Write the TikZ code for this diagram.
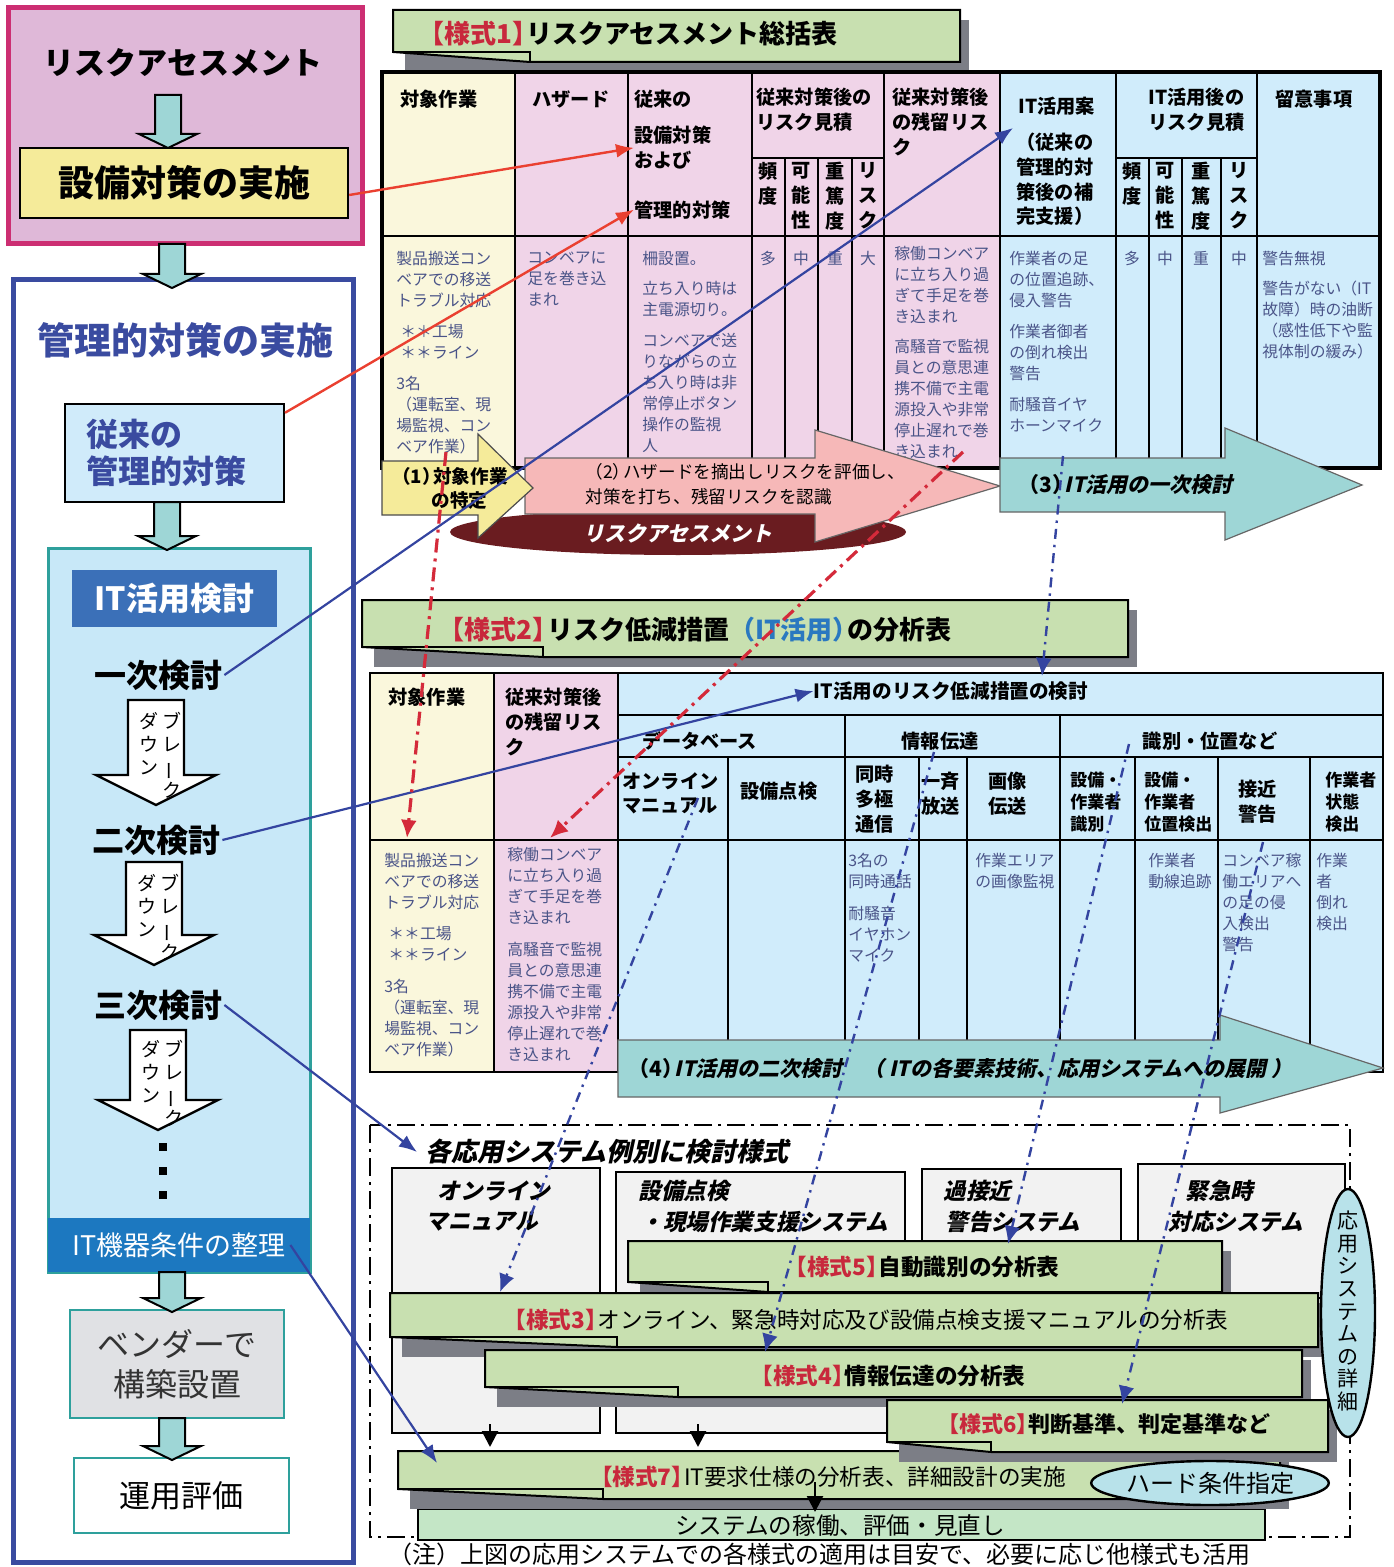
\documentclass[tikz,border=0pt]{standalone}
\usepackage{fontspec}
\setmainfont{Noto Sans CJK JP}
\newfontfamily\sljp{Noto Sans CJK JP}[FakeSlant=0.22]
\usetikzlibrary{arrows.meta,positioning,shapes.geometric}

\definecolor{pinkbox}{HTML}{DFB8D8}
\definecolor{pinkedge}{HTML}{CC2E72}
\definecolor{yelc}{HTML}{F5EB9A}
\definecolor{arrteal}{HTML}{9ED6D6}
\definecolor{navy}{HTML}{3A4BA0}
\definecolor{kjfill}{HTML}{D0EBFA}
\definecolor{itpanel}{HTML}{C8E8F8}
\definecolor{itedge}{HTML}{2EA09C}
\definecolor{ithead}{HTML}{3B70B8}
\definecolor{itbar}{HTML}{1C78C0}
\definecolor{vendc}{HTML}{E0E1E4}
\definecolor{creamc}{HTML}{FAF7DC}
\definecolor{pinkc}{HTML}{F0D4E8}
\definecolor{lbluec}{HTML}{D0ECFB}
\definecolor{bannerc}{HTML}{C8E0B0}
\definecolor{shadowc}{HTML}{7C7E86}
\definecolor{arrpink}{HTML}{F6B8B8}
\definecolor{ellred}{HTML}{6A1C20}
\definecolor{bodyc}{HTML}{4A5488}
\definecolor{redc}{HTML}{EA4030}
\definecolor{reddc}{HTML}{D42A3A}
\definecolor{titred}{HTML}{C8283C}
\definecolor{bluec}{HTML}{3444A0}
\definecolor{itbtxt}{HTML}{2A78C0}
\definecolor{hardc}{HTML}{B8E2EA}
\definecolor{sysc}{HTML}{C4E6C6}
\definecolor{gboxc}{HTML}{F2F2F2}

% teal block arrow: x, top, tip
\newcommand{\tealarrow}[3]{\filldraw[fill=arrteal,draw=black,line width=1pt]
  (#1-13,#2) -- (#1+13,#2) -- (#1+13,#3-14) -- (#1+29,#3-14) -- (#1,#3) -- (#1-29,#3-14) -- (#1-13,#3-14) -- cycle;}
% white breakdown arrow: x, top, tip
\newcommand{\bdarrow}[3]{\filldraw[fill=white,draw=black,line width=1.2pt]
  (#1-28,#2) -- (#1+28,#2) -- (#1+28,#3-30) -- (#1+60,#3-30) -- (#1,#3) -- (#1-60,#3-30) -- (#1-28,#3-30) -- cycle;}
% green banner: x0, y0, x1, y1, fold
\newcommand{\mybanner}[5]{%
  \fill[shadowc] (#1+12,#2+10) rectangle (#3+9,#4+10);
  \filldraw[fill=bannerc,draw=black,line width=1pt] (#1,#2) -- (#3,#2) -- (#3,#4) -- (#5,#4) -- (#1,#4-10) -- cycle;
  \draw[line width=1pt] (#1,#4-10) -- (#5,#4-10) -- (#5,#4);}
% form label
\newcommand{\ys}[1]{\textcolor{titred}{\bfseries【様式#1】}\kern-0.45em}

\begin{document}
\begin{tikzpicture}[x=0.5pt,y=-0.5pt,
  hd/.style={font=\fontsize{9.6}{12.3}\selectfont\bfseries,inner sep=0pt,align=left,anchor=north west},
  bd/.style={font=\fontsize{7.9}{10.5}\selectfont,text=bodyc,inner sep=0pt,align=left,anchor=north west},
  vc/.style={font=\fontsize{9.6}{12.4}\selectfont\bfseries,inner sep=0pt,align=center,anchor=north},
  bkd/.style={font=\fontsize{9.5}{11.5}\selectfont,inner sep=0pt,align=center,anchor=north},
  kento/.style={font=\fontsize{16}{18}\selectfont\bfseries,inner sep=1pt},
  tline/.style={draw=black,line width=0.8pt},
  gbox/.style={fill=gboxc,draw=black,line width=1.2pt},
  systxt/.style={font=\sljp\bfseries\fontsize{11.3}{13}\selectfont,inner sep=0pt,anchor=west},
  bantxt/.style={font=\fontsize{11.3}{13}\selectfont,inner sep=0pt},
  redline/.style={draw=redc,line width=1.2pt,-{Latex[length=9pt,width=7pt]}},
  blueline/.style={draw=bluec,line width=1.1pt,-{Latex[length=9pt,width=7pt]}},
  reddash/.style={draw=reddc,line width=1.6pt,dash pattern=on 7pt off 3pt on 1.5pt off 3pt,-{Latex[length=9pt,width=8pt]}},
  bluedash/.style={draw=bluec,line width=1.2pt,dash pattern=on 5pt off 3pt on 1.2pt off 3pt,-{Latex[length=9pt,width=8pt]}}]
\useasboundingbox (0,0) rectangle (1393,1567);

% ---- left column
\filldraw[fill=pinkbox,draw=pinkedge,line width=2.5pt] (8,8) rectangle (362,244);
\node[font=\fontsize{15.5}{18}\selectfont\bfseries] (ra) at (183,63) {リスクアセスメント};
\tealarrow{168}{95}{148}
\node[draw,line width=1.2pt,fill=yelc,minimum width=164pt,minimum height=35pt,font=\fontsize{18}{20}\selectfont\bfseries] (setsubi) at (184,183) {設備対策の実施};
\draw[navy,line width=2.5pt] (13,280) rectangle (353,1562);
\tealarrow{172}{244}{288}
\node[font=\fontsize{18.5}{20}\selectfont\bfseries,text=navy] (kanri) at (185,340) {管理的対策の実施};
\node[draw,line width=1pt,fill=kjfill,minimum width=109.5pt,minimum height=49pt] (kjbox) at (174.5,453) {};
\node[font=\fontsize{16}{18.5}\selectfont\bfseries,text=navy,align=left,anchor=west,inner sep=0pt] (kjtxt) at (86,453) {従来の\\管理的対策};
\filldraw[fill=itpanel,draw=itedge,line width=1.5pt] (48,548) rectangle (310,1272);
\tealarrow{167}{502}{550}
\node[fill=ithead,minimum width=102.5pt,minimum height=28.5pt,text=white,font=\fontsize{16}{18}\selectfont\bfseries] (itk) at (174.5,598.5) {IT活用検討};

\node[kento] (ichiji) at (158,675) {一次検討};
\bdarrow{156}{700}{805}
\node[bkd] at (172,712) {ブ\\レ\\\rotatebox[origin=c]{90}{ー}\\ク};
\node[bkd] at (149,712) {ダ\\ウ\\ン};
\node[kento] (niji) at (156,840) {二次検討};
\bdarrow{154}{862}{965}
\node[bkd] at (170,874) {ブ\\レ\\\rotatebox[origin=c]{90}{ー}\\ク};
\node[bkd] at (147,874) {ダ\\ウ\\ン};
\node[kento] (sanji) at (158,1005) {三次検討};
\bdarrow{158}{1030}{1130}
\node[bkd] at (174,1040) {ブ\\レ\\\rotatebox[origin=c]{90}{ー}\\ク};
\node[bkd] at (151,1040) {ダ\\ウ\\ン};
\foreach \y in {1147,1171,1195} \fill (159,\y-4) rectangle (167,\y+4);
\node[fill=itbar,minimum width=131pt,minimum height=27pt,text=white,font=\fontsize{13.5}{15}\selectfont] (itkiki) at (179,1245) {IT機器条件の整理};
\node[draw=itedge,line width=1.2pt,fill=vendc,minimum width=107pt,minimum height=54pt,align=center,font=\fontsize{16}{20}\selectfont,text=black!80] (vendor) at (177,1364) {ベンダーで\\構築設置};
\tealarrow{172}{1272}{1312}
\node[draw=itedge,line width=1.2pt,fill=white,minimum width=107.5pt,minimum height=37.5pt,font=\fontsize{15.5}{18}\selectfont] (unyo) at (181.5,1495.5) {運用評価};
\tealarrow{172}{1418}{1460}

% ---- form 1
\mybanner{393}{10}{960}{62}{530}
\node[font=\fontsize{13}{15}\selectfont\bfseries] (s1) at (628,34) {\ys{1}リスクアセスメント総括表};
\fill[creamc] (382,72) rectangle (515,468);
\fill[pinkc] (515,72) rectangle (1000,468);
\fill[lbluec] (1000,72) rectangle (1380,468);
\foreach \x in {515,628,752,884,1000,1116,1257} \draw[tline] (\x,72) -- (\x,468);
\foreach \x in {785,818,852,1149,1182,1221} \draw[tline] (\x,158) -- (\x,468);
\draw[tline] (752,158) -- (884,158) (1116,158) -- (1257,158);
\draw[tline] (382,236) -- (1380,236);
\draw[line width=1.6pt] (382,72) rectangle (1380,468);

\node[hd] (h1) at (400,90) {対象作業};
\node[hd] (h2) at (532,90) {ハザード};
\node[hd] (h3) at (634,90) {従来の};
\node[hd] (h3b) at (634,126) {設備対策\\および};
\node[hd] (h3c) at (634,200) {管理的対策};
\node[hd] (h4) at (756,88) {従来対策後の\\リスク見積};
\node[vc] at (768,162) {頻\\度};
\node[vc] at (801,162) {可\\能\\性};
\node[vc] at (835,162) {重\\篤\\度};
\node[vc] at (868,162) {リ\\ス\\ク};
\node[hd] (h5) at (892,88) {従来対策後\\の残留リス\\ク};
\node[hd] (h6) at (1018,97) {IT活用案};
\node[hd] (h6b) at (1016,133) {（従来の\\管理的対\\策後の補\\完支援）};
\node[hd] (h7) at (1148,88) {IT活用後の\\リスク見積};
\node[vc] at (1132,162) {頻\\度};
\node[vc] at (1165,162) {可\\能\\性};
\node[vc] at (1201,162) {重\\篤\\度};
\node[vc] at (1239,162) {リ\\ス\\ク};
\node[hd] (h8) at (1275,90) {留意事項};

\node[bd] (b1) at (396,251) {製品搬送コン\\ベアでの移送\\トラブル対応};
\node[bd] at (400,324) {＊＊工場\\＊＊ライン};
\node[bd] at (396,376) {3名\\（運転室、現\\場監視、コン\\ベア作業）};
\node[bd] (b2) at (527,251) {コンベアに\\足を巻き込\\まれ};
\node[bd] (b3) at (642,251) {柵設置。};
\node[bd] at (642,281) {立ち入り時は\\主電源切り。};
\node[bd] at (642,333) {コンベアで送\\りながらの立\\ち入り時は非\\常停止ボタン\\操作の監視\\人};
\foreach \x/\t in {768/多,801/中,835/重,868/大} \node[bd,anchor=north] at (\x,251) {\t};
\node[bd] (b5) at (894,246) {稼働コンベア\\に立ち入り過\\ぎて手足を巻\\き込まれ};
\node[bd] at (894,339) {高騒音で監視\\員との意思連\\携不備で主電\\源投入や非常\\停止遅れで巻\\き込まれ};
\node[bd] (b6) at (1009,251) {作業者の足\\の位置追跡、\\侵入警告};
\node[bd] at (1009,324) {作業者御者\\の倒れ検出\\警告};
\node[bd] at (1009,397) {耐騒音イヤ\\ホーンマイク};
\foreach \x/\t in {1132/多,1165/中,1201/重,1239/中} \node[bd,anchor=north] at (\x,251) {\t};
\node[bd] (b8) at (1262,251) {警告無視};
\node[bd] at (1262,281) {警告がない（IT\\故障）時の油断\\（感性低下や監\\視体制の緩み）};

% ---- steps (1)(2)(3)
\node[ellipse,fill=ellred,minimum width=228pt,minimum height=23pt,inner sep=0pt] (rae) at (678,532) {};
\filldraw[fill=arrpink,draw=black!60,line width=0.6pt] (525,458) -- (815,458) -- (815,430) -- (1000,486) -- (815,542) -- (815,514) -- (525,514) -- cycle;
\filldraw[fill=yelc,draw=black!70,line width=0.6pt] (382,461) -- (478,461) -- (478,434) -- (533,488) -- (478,538) -- (478,515) -- (382,515) -- cycle;
\filldraw[fill=arrteal,draw=black!60,line width=0.6pt] (1000,458) -- (1225,458) -- (1225,428) -- (1362,485) -- (1225,540) -- (1225,512) -- (1000,512) -- cycle;
\node[font=\sljp\bfseries\fontsize{10.5}{12}\selectfont,text=white] (raet) at (678,533) {リスクアセスメント};
\node[font=\fontsize{9.3}{12}\selectfont\bfseries,inner sep=0pt,align=center] (t1) at (450,488) {（1）\kern-0.4em対象作業\\\hspace{1em}の特定};
\node[font=\fontsize{8.8}{12.5}\selectfont,inner sep=0pt,align=left,anchor=north west] (t2) at (585,463) {（2）\kern-0.4emハザードを摘出しリスクを評価し、\\対策を打ち、残留リスクを認識};
\node[font=\sljp\bfseries\fontsize{10.5}{12}\selectfont,inner sep=0pt,anchor=west] (t3) at (1018,485) {{\rmfamily\bfseries（3）}\kern-0.4em IT活用の一次検討};

% ---- form 2
\mybanner{362}{600}{1128}{657}{543}
\node[font=\fontsize{13}{15}\selectfont\bfseries] (s2) at (695,630) {\ys{2}リスク低減措置\textcolor{itbtxt}{（IT活用）}\kern-0.45em の分析表};
\fill[creamc] (370,673) rectangle (494,1072);
\fill[pinkc] (494,673) rectangle (618,1072);
\fill[lbluec] (618,673) rectangle (1383,1072);
\draw[tline] (618,715) -- (1383,715) (618,757) -- (1383,757) (370,840) -- (1383,840);
\foreach \x in {494,618} \draw[tline] (\x,673) -- (\x,1072);
\foreach \x in {845,1060} \draw[tline] (\x,715) -- (\x,1072);
\foreach \x in {728,919,967,1135,1218,1310} \draw[tline] (\x,757) -- (\x,1072);
\draw[line width=1.2pt] (370,673) rectangle (1383,1072);

\node[hd] (k1) at (388,688) {対象作業};
\node[hd] (k2) at (505,688) {従来対策後\\の残留リス\\ク};
\node[font=\fontsize{9.8}{12}\selectfont\bfseries,inner sep=0pt] (hitr) at (951,691) {IT活用のリスク低減措置の検討};
\node[font=\fontsize{9.6}{12}\selectfont\bfseries,inner sep=0pt] at (700,741) {データベース};
\node[font=\fontsize{9.6}{12}\selectfont\bfseries,inner sep=0pt] at (940,741) {情報伝達};
\node[font=\fontsize{9.6}{12}\selectfont\bfseries,inner sep=0pt] at (1210,741) {識別・位置など};
\node[hd] at (622,772) {オンライン\\マニュアル};
\node[hd,anchor=west] at (740,791) {設備点検};
\node[hd] at (855,765) {同時\\多極\\通信};
\node[hd] at (921,772) {一斉\\放送};
\node[hd] at (988,772) {画像\\伝送};
\node[hd,font=\fontsize{8.5}{11}\selectfont\bfseries] at (1070,772) {設備・\\作業者\\識別};
\node[hd,font=\fontsize{8.5}{11}\selectfont\bfseries] at (1144,772) {設備・\\作業者\\位置検出};
\node[hd] at (1238,780) {接近\\警告};
\node[hd,font=\fontsize{8.5}{11}\selectfont\bfseries] at (1325,772) {作業者\\状態\\検出};

\node[bd] at (384,853) {製品搬送コン\\ベアでの移送\\トラブル対応};
\node[bd] at (388,926) {＊＊工場\\＊＊ライン};
\node[bd] at (384,979) {3名\\（運転室、現\\場監視、コン\\ベア作業）};
\node[bd] at (507,847) {稼働コンベア\\に立ち入り過\\ぎて手足を巻\\き込まれ};
\node[bd] at (507,942) {高騒音で監視\\員との意思連\\携不備で主電\\源投入や非常\\停止遅れで巻\\き込まれ};
\node[bd] at (848,853) {3名の\\同時通話};
\node[bd] at (848,906) {耐騒音\\イヤホン\\マイク};
\node[bd] at (975,853) {作業エリア\\の画像監視};
\node[bd] at (1148,853) {作業者\\動線追跡};
\node[bd] at (1222,853) {コンベア稼\\働エリアへ\\の足の侵\\入検出\\警告};
\node[bd] at (1316,853) {作業\\者\\倒れ\\検出};

\filldraw[fill=arrteal,draw=black!60,line width=0.6pt] (618,1040) -- (1220,1040) -- (1220,1015) -- (1383,1068) -- (1220,1113) -- (1220,1097) -- (618,1097) -- cycle;
\node[font=\sljp\bfseries\fontsize{10.5}{12}\selectfont,inner sep=0pt,anchor=west] (t4) at (628,1068) {{\rmfamily\bfseries（4）}\kern-0.4em IT活用の二次検討\quad（ ITの各要素技術、応用システムへの展開 ）};

% ---- application systems
\draw[line width=1.1pt,dash pattern=on 9pt off 3pt on 1.5pt off 3pt] (370,1125) rectangle (1350,1537);
\node[font=\sljp\bfseries\fontsize{13}{15}\selectfont,inner sep=0pt,anchor=west] (kk) at (425,1152) {各応用システム例別に検討様式};
\filldraw[gbox] (392,1168) rectangle (600,1433);
\filldraw[gbox] (616,1172) rectangle (905,1433);
\filldraw[gbox] (922,1169) rectangle (1121,1250);
\filldraw[gbox] (1138,1164) rectangle (1345,1298);
\node[systxt] at (437,1191) {オンライン};
\node[systxt] at (425,1222) {マニュアル};
\node[systxt] at (638,1191) {設備点検};
\node[systxt] at (640,1222) {・現場作業支援システム};
\node[systxt] at (943,1191) {過接近};
\node[systxt] at (945,1222) {警告システム};
\node[systxt] at (1185,1191) {緊急時};
\node[systxt] at (1168,1222) {対応システム};

\mybanner{628}{1241}{1222}{1292}{768}
\node[bantxt,font=\fontsize{11.3}{13}\selectfont\bfseries] (s5) at (922,1267) {\ys{5}自動識別の分析表};
\mybanner{390}{1293}{1318}{1347}{617}
\node[bantxt] (s3) at (866,1320) {\ys{3}オンライン、緊急時対応及び設備点検支援マニュアルの分析表};
\mybanner{485}{1350}{1302}{1397}{678}
\node[bantxt,font=\fontsize{11.3}{13}\selectfont\bfseries] (s4) at (888,1376) {\ys{4}情報伝達の分析表};
\filldraw[fill=sysc,draw=black,line width=1pt] (418,1509) rectangle (1265,1540);
\node[bantxt,font=\fontsize{11.8}{13}\selectfont] (sys) at (840,1526) {システムの稼働、評価・見直し};
\mybanner{398}{1451}{1280}{1499}{603}
\node[bantxt] (s7) at (828,1477) {\ys{7}IT要求仕様の分析表、詳細設計の実施};
\mybanner{887}{1400}{1328}{1452}{991}
\node[bantxt,font=\fontsize{11}{13}\selectfont\bfseries] (s6) at (1104,1424) {\ys{6}判断基準、判定基準など};
\node[ellipse,draw,line width=1.2pt,fill=hardc,minimum width=118pt,minimum height=22pt,inner sep=0pt,font=\fontsize{12}{14}\selectfont] (hard) at (1210,1483) {ハード条件指定};
\node[ellipse,draw,line width=1.2pt,fill=hardc,minimum width=27pt,minimum height=124pt,inner sep=0pt] (ouyo) at (1348,1313) {};
\node[font=\fontsize{10.5}{11.3}\selectfont,align=center,inner sep=0pt] at (1348,1311) {応\\用\\シ\\ス\\テ\\ム\\の\\詳\\細};
\coordinate (g1) at (490,1424); \coordinate (g1e) at (490,1447);
\coordinate (g2) at (698,1424); \coordinate (g2e) at (698,1447);
\coordinate (g3) at (815,1482); \coordinate (g3e) at (815,1512);
\foreach \a/\b in {g1/g1e,g2/g2e,g3/g3e} \draw[line width=1.3pt,-{Triangle[length=8pt,width=8pt]}] (\a) -- (\b);
\node[font=\fontsize{12}{14}\selectfont,inner sep=0pt,anchor=west] (note) at (388,1554) {（注）上図の応用システムでの各様式の適用は目安で、必要に応じ他様式も活用};

% ---- connectors
\coordinate (c1) at (1013,128);
\coordinate (c7) at (437,1463);
\draw[redline] ([yshift=-6pt]setsubi.east) -- (h3b.west);
\draw[redline] (kjbox.20) -- (h3c.west);
\draw[blueline] (ichiji.east) -- (c1);
\draw[blueline] (niji.east) -- (hitr.west);
\draw[blueline] (sanji.east) -- ([xshift=-4pt]kk.west);
\draw[blueline] ([xshift=-10pt]itkiki.east) -- (c7);
\coordinate (d1s) at (446,452); \coordinate (d1e) at (407,838);
\coordinate (d2s) at (963,452); \coordinate (d2e) at (550,838);
\draw[reddash] (d1s) -- (d1e);
\draw[reddash] (d2s) -- (d2e);
\coordinate (e1s) at (1063,456); \coordinate (e1e) at (1042,676);
\coordinate (e2s) at (698,798); \coordinate (e2e) at (500,1292);
\coordinate (e3s) at (934,752); \coordinate (e3e) at (765,1352);
\coordinate (e4s) at (1129,744); \coordinate (e4e) at (1008,1244);
\coordinate (e5s) at (1263,842); \coordinate (e5e) at (1122,1404);
\foreach \s/\e in {e1s/e1e,e2s/e2e,e3s/e3e,e4s/e4e,e5s/e5e} \draw[bluedash] (\s) -- (\e);
\end{tikzpicture}
\end{document}
